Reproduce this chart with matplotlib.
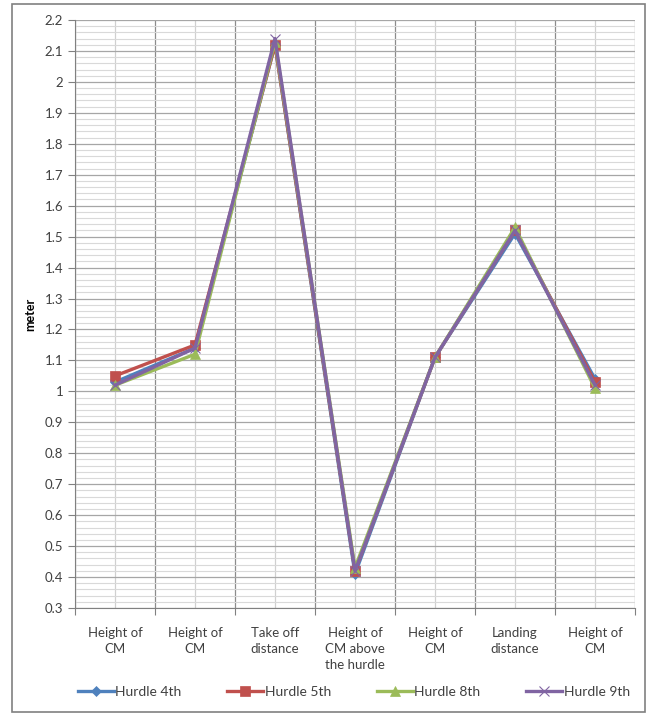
import matplotlib.pyplot as plt
from matplotlib.patches import Rectangle
from matplotlib.ticker import MultipleLocator, FixedLocator

plt.rcParams['font.family'] = ['Lato', 'DejaVu Sans']

categories = ['Height of\nCM', 'Height of\nCM', 'Take off\ndistance', 'Height of\nCM above\nthe hurdle',
              'Height of\nCM', 'Landing\ndistance', 'Height of\nCM']
hurdle_4 = [1.03, 1.14, 2.12, 0.41, 1.11, 1.51, 1.04]
hurdle_5 = [1.05, 1.15, 2.12, 0.42, 1.11, 1.52, 1.03]
hurdle_8 = [1.02, 1.12, 2.13, 0.43, 1.11, 1.53, 1.01]
hurdle_9 = [1.02, 1.14, 2.14, 0.42, 1.11, 1.52, 1.02]

series = [
    ('Hurdle 4th', hurdle_4, '#4F81BD', 'D', 5),
    ('Hurdle 5th', hurdle_5, '#C0504D', 's', 7),
    ('Hurdle 8th', hurdle_8, '#9BBB59', '^', 7),
    ('Hurdle 9th', hurdle_9, '#8064A2', 'x', 7),
]

fig = plt.figure(figsize=(6.49, 7.14), dpi=100)
ax = fig.add_axes([75 / 649, 1 - 608 / 714, 560 / 649, 588 / 714])

x = list(range(len(categories)))
for label, vals, color, marker, ms in series:
    ax.plot(x, vals, color=color, lw=2.4, marker=marker, markersize=ms,
            markeredgecolor=color, markeredgewidth=0.8 if marker == 'x' else 0.5, label=label)

ax.set_xlim(-0.5, len(categories) - 0.5)
ax.set_ylim(0.3, 2.2)

# y grid: major every 0.1, minor every 0.02
ax.yaxis.set_major_locator(MultipleLocator(0.1))
ax.yaxis.set_minor_locator(MultipleLocator(0.02))
ax.set_yticklabels([('%g' % round(v, 1)) for v in ax.get_yticks()])
ax.grid(which='major', axis='y', color='#a6a6a6', lw=0.9)
ax.grid(which='minor', axis='y', color='#d9d9d9', lw=0.8)

# x grid: darker lines between categories, lighter through the centres
ax.xaxis.set_major_locator(FixedLocator([i - 0.5 for i in range(len(categories) + 1)]))
ax.xaxis.set_minor_locator(FixedLocator(x))
ax.set_xticklabels([])
ax.set_xticklabels(categories, minor=True)
ax.grid(which='major', axis='x', color='#8c8c8c', lw=0.9)
ax.grid(which='minor', axis='x', color='#d0d0d0', lw=0.9)
ax.set_axisbelow(True)

ax.tick_params(axis='x', which='major', length=5, color='#808080', direction='out')
ax.tick_params(axis='x', which='minor', length=0, pad=14, labelsize=9.5, colors='#404040')
ax.tick_params(axis='y', which='major', length=5, color='#808080', labelsize=9.5, colors='#404040')
ax.tick_params(axis='y', which='minor', length=0)
for lbl in ax.get_xticklabels(minor=True):
    lbl.set_verticalalignment('top')
    lbl.set_linespacing(1.4)

for side in ['top', 'right']:
    ax.spines[side].set_visible(False)
for side in ['left', 'bottom']:
    ax.spines[side].set_color('#808080')

ax.set_ylabel('meter', fontsize=9, fontweight='bold', labelpad=6)

fig.legend(loc='center', bbox_to_anchor=(0.545, 1 - 692 / 714), ncol=4, frameon=False,
           fontsize=10, handlelength=2.6, columnspacing=3.3, handletextpad=0.1,
           labelcolor='#404040')

fig.patches.append(Rectangle((12 / 649, 2 / 714), 633 / 649, 708 / 714, transform=fig.transFigure,
                             fill=False, edgecolor='#808080', lw=1.2))

fig.savefig('out.png', dpi=100)
